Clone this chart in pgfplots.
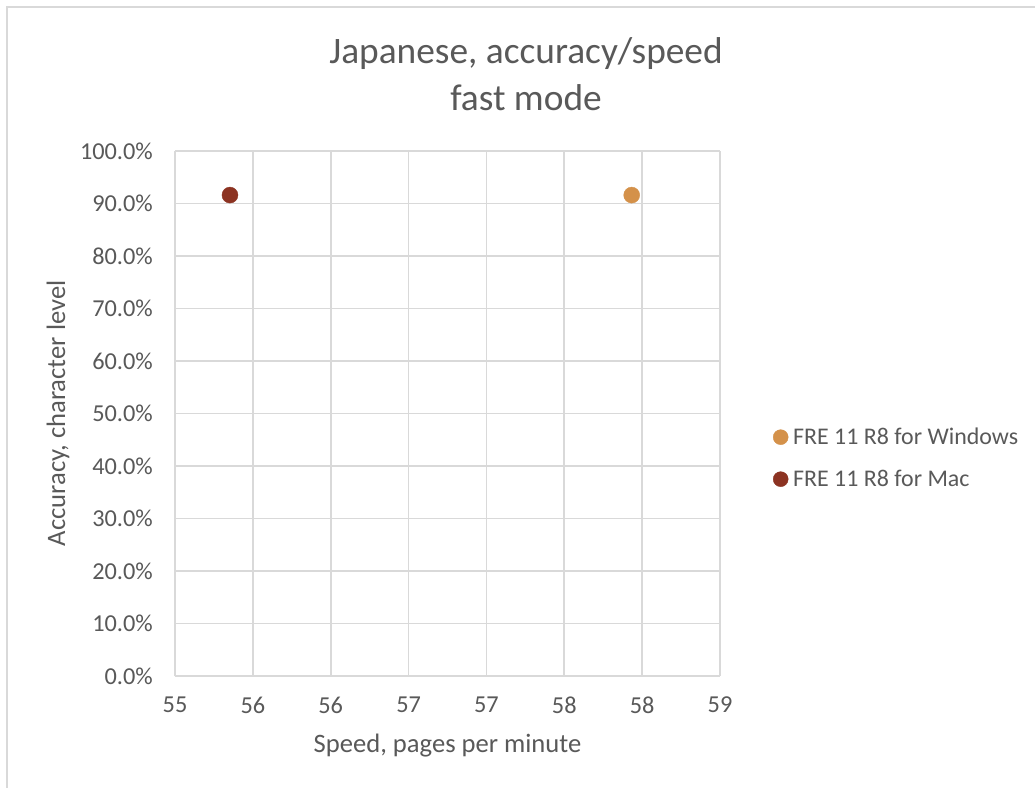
\documentclass[border=0pt]{standalone}
\usepackage{pgfplots}
\pgfplotsset{compat=1.18}
\usepackage{fontspec}
\setmainfont{Carlito}
\definecolor{txt}{HTML}{595959}
\definecolor{gridc}{HTML}{D9D9D9}
\definecolor{win}{HTML}{D4914A}
\definecolor{mac}{HTML}{8C3322}
\begin{document}
\begin{tikzpicture}
\useasboundingbox (0,0) rectangle (1035bp,788bp);
\fill[white] (0,0) rectangle (1035bp,788bp);
\draw[gridc, line width=1.8bp] (7bp,-5bp) -- (7bp,781bp) -- (1045bp,781bp);
\begin{axis}[
  at={(175bp,112bp)}, anchor=south west,
  scale only axis, width=545bp, height=525bp,
  xmin=55, xmax=58.5, ymin=0, ymax=100,
  xtick={55,55.5,56,56.5,57,57.5,58,58.5},
  xticklabels={55,56,56,57,57,58,58,59},
  ytick={0,10,...,100},
  yticklabels={0.0\%,10.0\%,20.0\%,30.0\%,40.0\%,50.0\%,60.0\%,70.0\%,80.0\%,90.0\%,100.0\%},
  grid=major, major grid style={gridc, line width=1.8bp},
  axis line style={gridc, line width=1.8bp},
  axis x line*=bottom, axis y line*=left,
  major tick length=0pt,
  /pgf/number format/assume math mode=true,
  tick label style={font=\fontsize{24.4}{29}\selectfont, text=txt},
  yticklabel style={anchor=east, inner sep=0pt, xshift=-22bp},
  xticklabel style={anchor=north, inner sep=0pt, yshift=-21bp},
  xlabel={Speed, pages per minute},
  ylabel={Accuracy, character level},
  label style={font=\fontsize{26.7}{32}\selectfont, text=txt},
  xlabel style={at={(axis description cs:0.5,0)}, anchor=center, yshift=-70bp},
  ylabel style={at={(axis description cs:0,0.5)}, anchor=center, yshift=117bp},
  legend style={at={(1,0.415)}, anchor=west, xshift=53bp, draw=none, fill=none,
    font=\fontsize{24}{29}\selectfont, text=txt, inner sep=0pt, row sep=24bp,
    cells={anchor=west}, nodes={inner sep=0pt}},
  legend image code/.code={\draw[mark repeat=2,mark phase=2,mark size=7.5bp] plot coordinates {(0bp,0bp) (7.5bp,0bp) (15bp,0bp)}; \path[draw=none] (0bp,0bp) -- (20bp,0bp);},
]
\addplot[only marks, mark=*, mark size=8bp, color=win, mark options={draw=win, fill=win}]
  coordinates {(57.933,91.6)};
\addlegendentry{FRE 11 R8 for Windows}
\addplot[only marks, mark=*, mark size=8bp, color=mac, mark options={draw=mac, fill=mac}]
  coordinates {(55.353,91.6)};
\addlegendentry{FRE 11 R8 for Mac}
\end{axis}
\node[align=center, text=txt, font=\fontsize{37.5}{47}\selectfont] at (526bp,714bp) {Japanese, accuracy/speed\\fast mode};
\end{tikzpicture}
\end{document}
